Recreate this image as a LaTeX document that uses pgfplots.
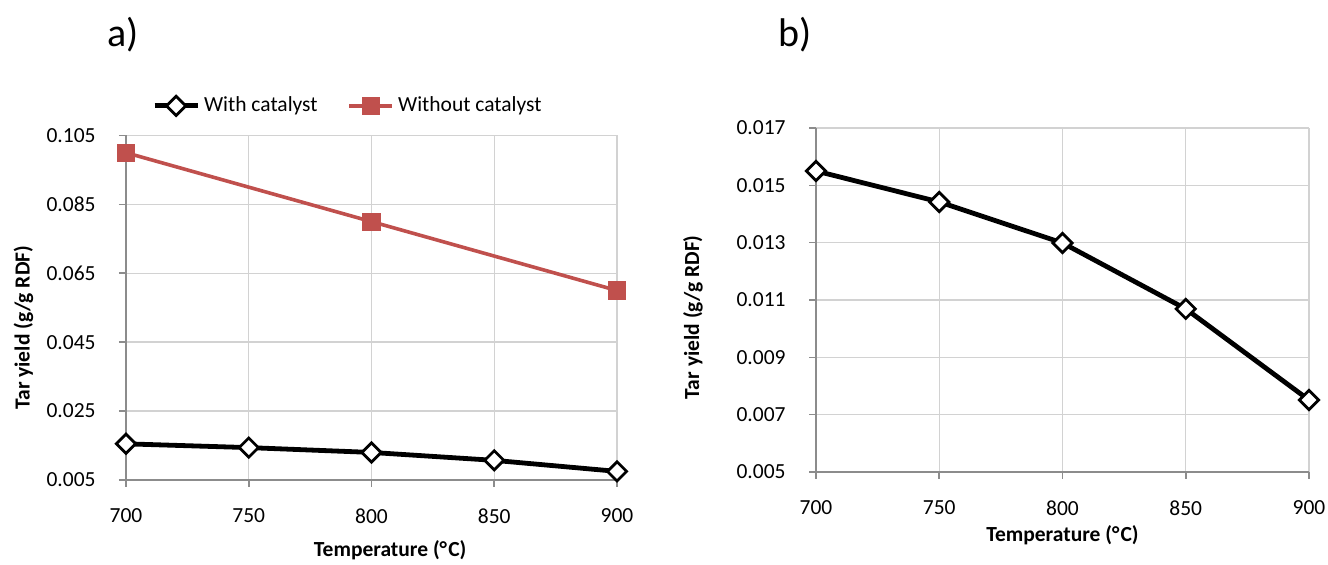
\documentclass[border=0pt]{standalone}
\usepackage{fontspec}
\setmainfont{Carlito}
\usepackage{pgfplots}
\pgfplotsset{compat=1.18}
\definecolor{redline}{RGB}{192,80,77}
\definecolor{gridgray}{RGB}{210,210,210}
\definecolor{axgray}{RGB}{140,140,140}

\newcommand{\chartfont}{\fontsize{10.75}{12}\selectfont}

\pgfplotsset{
  panel/.style={
    scale only axis,
    xmin=700, xmax=900,
    xtick={700,750,800,850,900},
    axis lines=left,
    axis line style={axgray, line width=0.8pt, -},
    grid=major,
    major grid style={gridgray, line width=0.7pt},
    tick style={axgray, line width=0.8pt},
    tick align=outside,
    major tick length=3.5pt,
    clip=false,
    scaled y ticks=false,
    /pgf/number format/assume math mode=true,
    ticklabel style={font=\chartfont},
    xticklabel style={anchor=center, yshift=-14.5pt},
    yticklabel style={anchor=east, inner sep=0pt, xshift=-11.5pt,
      /pgf/number format/.cd, fixed, fixed zerofill, precision=3},
    xlabel style={font=\chartfont\bfseries, anchor=center},
    ylabel style={font=\chartfont\bfseries, anchor=center},
  },
  withcat/.style={black, line width=2.4pt, mark=square*,
    mark size=3.4pt,
    mark options={rotate=45, fill=white, draw=black, line width=1.4pt, solid}},
  legend image code/.code={
    \draw[mark repeat=2, mark phase=2, #1]
      plot coordinates {(0pt,0pt) (10.75pt,0pt) (21.5pt,0pt)};
  },
}

\begin{document}
\begin{tikzpicture}
\path[use as bounding box] (0,0) rectangle (664pt,-282.5pt);

\node[anchor=west, font=\fontsize{20}{22}\selectfont, inner sep=0pt] at (53.5pt,-17.5pt) {a)};
\node[anchor=west, font=\fontsize{20}{22}\selectfont, inner sep=0pt] at (389pt,-17.5pt) {b)};

% panel a
\begin{axis}[
  panel,
  at={(63pt,-240pt)}, anchor=south west,
  width=245.5pt, height=172.25pt,
  ymin=0.005, ymax=0.105,
  ytick={0.005,0.025,0.045,0.065,0.085,0.105},
  xlabel={Temperature (°\kern0.6pt C)},
  ylabel={Tar yield (g/g RDF)},
  xlabel style={at={(axis description cs:0.538,-0.203)}},
  ylabel style={at={(axis description cs:-0.209,0.442)}},
  legend columns=-1,
  legend style={draw=none, fill=none, font=\chartfont,
    at={(axis description cs:0.454,1.086)}, anchor=center,
    inner sep=0pt,
    nodes={inner sep=2pt},
    /tikz/every even column/.append style={column sep=13pt}},
]
\addplot[withcat] coordinates {
  (700,0.0155) (750,0.0144) (800,0.0130) (850,0.0107) (900,0.0075)
};
\addlegendentry{With catalyst}
\addplot[redline, line width=1.8pt, mark=square*, mark size=4.3pt,
  mark options={fill=redline, draw=redline, line width=0pt}] coordinates {
  (700,0.100) (800,0.080) (900,0.060)
};
\addlegendentry{Without catalyst}
\end{axis}

% panel b
\begin{axis}[
  panel,
  at={(408pt,-236pt)}, anchor=south west,
  width=246.5pt, height=172pt,
  ymin=0.005, ymax=0.017,
  ytick={0.005,0.007,0.009,0.011,0.013,0.015,0.017},
  xlabel={Temperature (°\kern0.6pt C)},
  ylabel={Tar yield (g/g RDF)},
  xlabel style={at={(axis description cs:0.5,-0.183)}},
  ylabel style={at={(axis description cs:-0.2495,0.45)}},
]
\addplot[withcat] coordinates {
  (700,0.0155) (750,0.01442) (800,0.01299) (850,0.01069) (900,0.00751)
};
\end{axis}
\end{tikzpicture}
\end{document}
